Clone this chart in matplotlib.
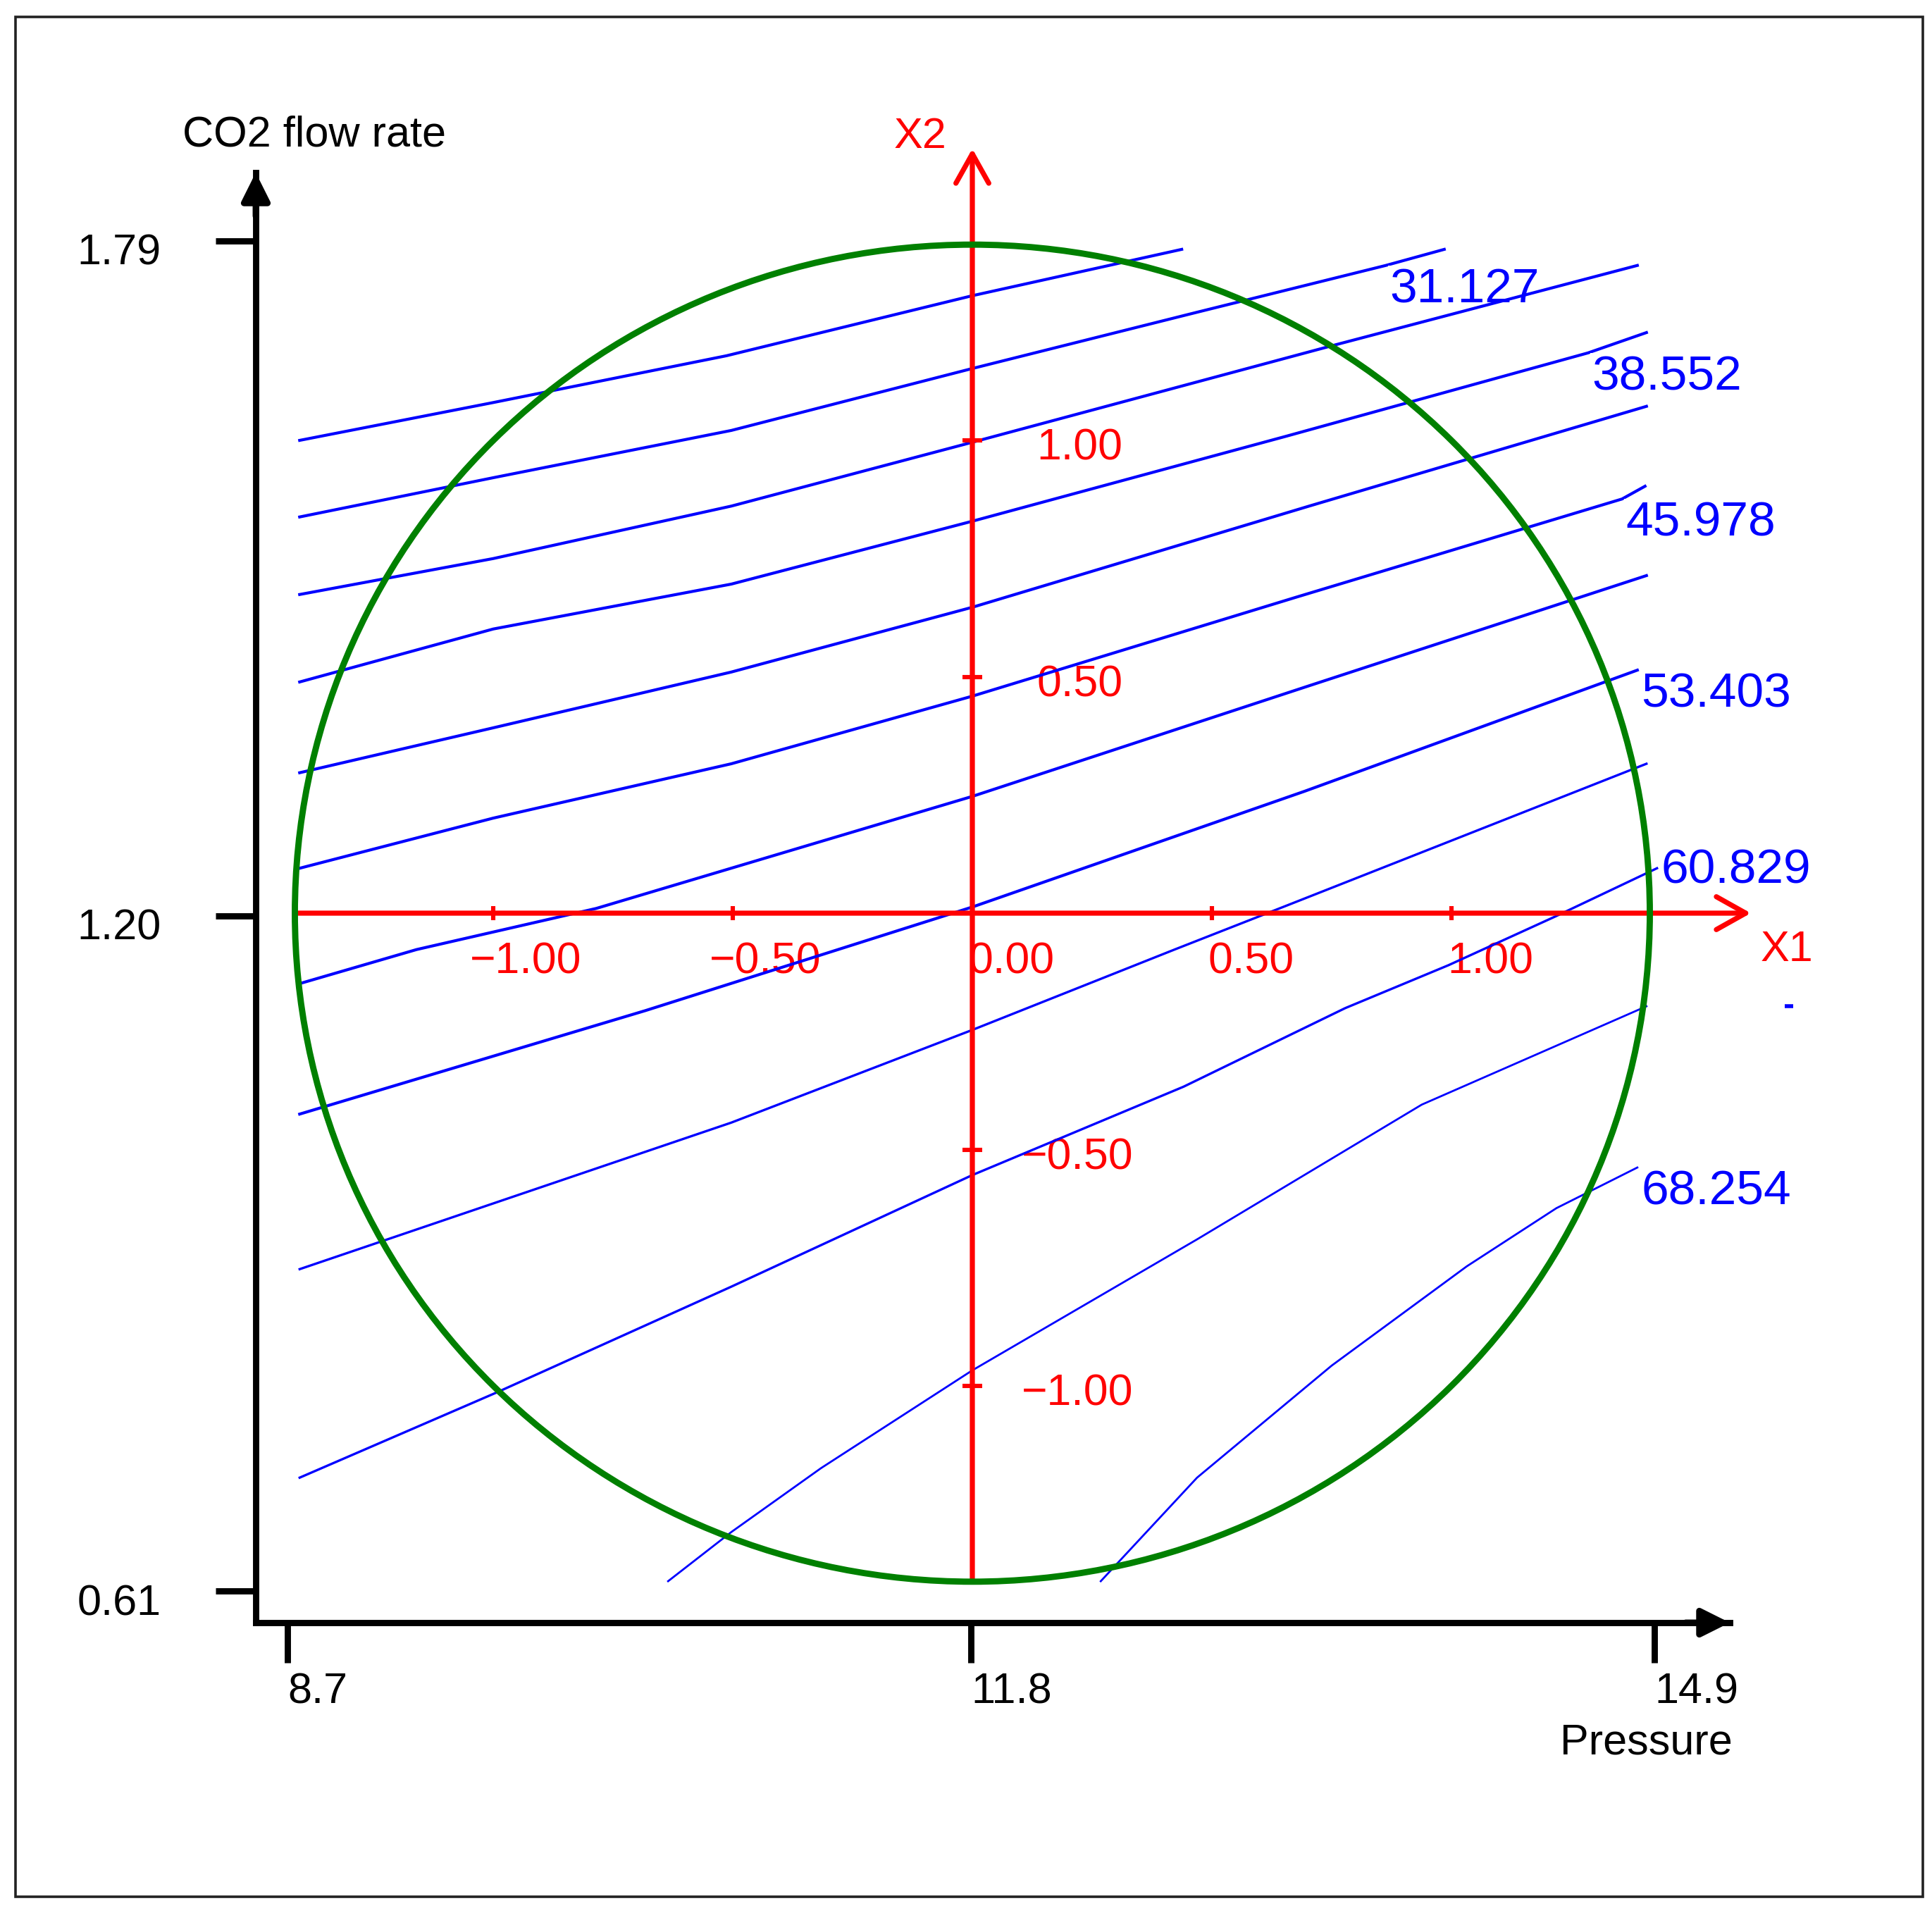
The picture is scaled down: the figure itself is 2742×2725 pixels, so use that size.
import numpy as np
import matplotlib
matplotlib.use('Agg')
import matplotlib.pyplot as plt
import matplotlib.transforms as mtransforms
from matplotlib.patches import Circle, Rectangle

plt.rcParams['font.family'] = ['Liberation Sans', 'DejaVu Sans']

# real factor axes
pressure_ticks = [8.7, 11.8, 14.9]
pressure_ticklabels = ['8.7', '11.8', '14.9']
co2_ticks = [0.61, 1.20, 1.79]
co2_ticklabels = ['0.61', '1.20', '1.79']
pressure_label = 'Pressure'
co2_label = 'CO2 flow rate'

# coded axes
alpha = 1.414
x1_ticks = [-1.0, -0.5, 0.0, 0.5, 1.0]
x2_ticks = [-1.0, -0.5, 0.5, 1.0]

# iso-response curves (coded X1, X2), top to bottom
c1_x1 = [-1.404, -1.000, -0.513, 0.000, 0.437]
c1_x2 = [1.000, 1.080, 1.179, 1.306, 1.404]
c2_x1 = [-1.404, -1.000, -0.503, 0.000, 0.469, 0.863, 0.985]
c2_x2 = [0.838, 0.921, 1.021, 1.152, 1.271, 1.370, 1.404]
c3_x1 = [-1.404, -1.000, -0.503, 0.000, 0.750, 1.388]
c3_x2 = [0.674, 0.750, 0.861, 0.996, 1.200, 1.370]
c4_x1 = [-1.404, -1.000, -0.503, 0.000, 0.656, 1.285, 1.407]
c4_x2 = [0.489, 0.601, 0.696, 0.829, 1.009, 1.185, 1.228]
c5_x1 = [-1.404, -1.000, -0.503, 0.000, 0.703, 1.407]
c5_x2 = [0.297, 0.392, 0.510, 0.647, 0.861, 1.072]
c6_x1 = [-1.404, -1.000, -0.503, 0.000, 0.675, 1.356, 1.404]
c6_x2 = [0.095, 0.201, 0.316, 0.459, 0.668, 0.876, 0.903]
c7_x1 = [-1.404, -1.160, -0.785, 0.000, 0.703, 1.407]
c7_x2 = [-0.149, -0.077, 0.010, 0.247, 0.481, 0.714]
c8_x1 = [-1.404, -0.682, 0.000, 0.694, 1.388]
c8_x2 = [-0.425, -0.206, 0.013, 0.258, 0.514]
c9_x1 = [-1.404, -0.503, 0.000, 0.422, 0.656, 1.407]
c9_x2 = [-0.753, -0.443, -0.247, -0.077, 0.016, 0.316]
c10_x1 = [-1.404, -0.991, -0.503, 0.000, 0.441, 0.778, 0.994, 1.219, 1.429]
c10_x2 = [-1.194, -1.013, -0.790, -0.554, -0.367, -0.201, -0.110, -0.006, 0.095]
c11_x1 = [-0.635, -0.503, -0.316, 0.000, 0.469, 0.938, 1.407]
c11_x2 = [-1.413, -1.309, -1.174, -0.967, -0.690, -0.405, -0.197]
c12_x1 = [0.268, 0.469, 0.750, 1.032, 1.219, 1.388]
c12_x2 = [-1.413, -1.194, -0.957, -0.747, -0.624, -0.538]

curve_labels = ['', '31.127', '', '38.552', '', '45.978',
                '', '53.403', '', '60.829', '', '68.254']

# little blue speck right of the circle
stray_x1 = [1.704]
stray_x2 = [-0.197]

curves = [(c1_x1, c1_x2), (c2_x1, c2_x2), (c3_x1, c3_x2), (c4_x1, c4_x2),
          (c5_x1, c5_x2), (c6_x1, c6_x2), (c7_x1, c7_x2), (c8_x1, c8_x2),
          (c9_x1, c9_x2), (c10_x1, c10_x2), (c11_x1, c11_x2), (c12_x1, c12_x2)]

W, H = 2742, 2725
fig = plt.figure(figsize=(W / 200, H / 200), dpi=200)
rect = [363 / W, 1 - 2303 / H, (2455 - 363) / W, (2303 - 245) / H]

# outer frame
fig.add_artist(Rectangle((22 / W, 1 - 2692 / H), (2729 - 22) / W, (2692 - 24) / H,
                         transform=fig.transFigure, fill=False, lw=1.3, ec='#222222'))

# black axes in real units
ax = fig.add_axes(rect)
ax.set_xlim(8.556, 15.242)
ax.set_ylim(0.5823, 1.8497)
ax.spines['top'].set_visible(False)
ax.spines['right'].set_visible(False)
for s in ['left', 'bottom']:
    ax.spines[s].set_linewidth(3.2)
ax.set_xticks(pressure_ticks)
ax.set_xticklabels(pressure_ticklabels)
ax.set_yticks(co2_ticks)
ax.set_yticklabels(co2_ticklabels)
ax.tick_params(direction='out', length=20.5, width=3.2, labelsize=22)
ax.tick_params(axis='y', pad=28)
ax.tick_params(axis='x', pad=5)
for t in ax.get_xticklabels():
    t.set_ha('left')
down = mtransforms.ScaledTranslation(0, -0.06, fig.dpi_scale_trans)
for t in ax.get_yticklabels():
    t.set_transform(t.get_transform() + down)

black_head = dict(arrowstyle='-|>,head_length=0.6,head_width=0.3', color='black',
                  lw=3.2, shrinkA=0, shrinkB=0, mutation_scale=20)
ax.annotate('', xy=(0, 1), xytext=(0, 0.97), xycoords='axes fraction',
            arrowprops=black_head, annotation_clip=False)
ax.annotate('', xy=(1, 0), xytext=(0.97, 0), xycoords='axes fraction',
            arrowprops=black_head, annotation_clip=False)
ax.text(-0.0497, 1.0258, co2_label, transform=ax.transAxes, ha='left', va='center',
        fontsize=22)
ax.text(1.002, -0.0831, pressure_label, transform=ax.transAxes, ha='right', va='center',
        fontsize=22)

# coded overlay
axc = fig.add_axes(rect)
axc.set_xlim(-1.4956, 1.5809)
axc.set_ylim(-1.5007, 1.5663)
axc.set_facecolor('none')
axc.axis('off')


def fmt(v):
    return f'{v:.2f}'.replace('-', '\u2212')


# red coded axes
x1_tip, x2_tip = 1.625, 1.617
red_head = dict(arrowstyle='->,head_length=0.75,head_width=0.42', color='red',
                lw=2.6, shrinkA=0, shrinkB=0, mutation_scale=20)
axc.annotate('', xy=(x1_tip, 0), xytext=(-alpha, 0), arrowprops=red_head,
             annotation_clip=False).arrow_patch.set_zorder(4)
axc.annotate('', xy=(0, x2_tip), xytext=(0, -alpha), arrowprops=red_head,
             annotation_clip=False).arrow_patch.set_zorder(4)
axc.plot(x1_ticks, np.zeros(len(x1_ticks)), ls='none', marker='|', ms=7, mew=2.2,
         color='red', zorder=4.1, clip_on=False)
axc.plot(np.zeros(len(x2_ticks)), x2_ticks, ls='none', marker='_', ms=10, mew=2.2,
         color='red', zorder=4.1, clip_on=False)
for v in x1_ticks:
    axc.annotate(fmt(v), xy=(v, 0), xytext=(-12 if v < 0 else -2, -25),
                 textcoords='offset points', ha='left', va='center', color='red',
                 fontsize=22.5, zorder=1.5)
for v in x2_ticks:
    axc.annotate(fmt(v), xy=(0, v), xytext=(25 if v < 0 else 33, -4),
                 textcoords='offset points', ha='left', va='center', color='red',
                 fontsize=22.5, zorder=1.5)
axc.annotate('X1', xy=(x1_tip, 0), xytext=(5, -19), textcoords='offset points',
             ha='left', va='center', color='red', fontsize=22, annotation_clip=False)
axc.annotate('X2', xy=(0, x2_tip), xytext=(-13, 6), textcoords='offset points',
             ha='right', va='center', color='red', fontsize=22, annotation_clip=False)

# experimental domain
axc.add_patch(Circle((0, 0), alpha, fill=False, ec='#008000', lw=3.2, zorder=3,
                     clip_on=False))

# iso-response curves, each label blanks out what was drawn before it
label_vertex = {1: -2, 3: -2, 5: -2}
for i, (cx, cy) in enumerate(curves):
    lw = 1.5 if i < 8 else (1.2 if i < 10 else 1.0)
    axc.plot(cx, cy, color='blue', lw=lw, zorder=2 + 0.02 * i, clip_on=False)
    if curve_labels[i]:
        k = label_vertex.get(i, -1)
        va = 'center' if curve_labels[i] == '60.829' else 'top'
        axc.annotate(curve_labels[i], xy=(cx[k], cy[k]), xytext=(2, -1),
                     textcoords='offset points', ha='left', va=va, color='blue',
                     fontsize=25, zorder=2.01 + 0.02 * i, annotation_clip=False,
                     bbox=dict(facecolor='white', edgecolor='none', pad=1))
axc.plot(stray_x1, stray_x2, ls='none', marker='_', ms=4, mew=2, color='blue',
         clip_on=False)

fig.savefig('out.png', dpi=200)
